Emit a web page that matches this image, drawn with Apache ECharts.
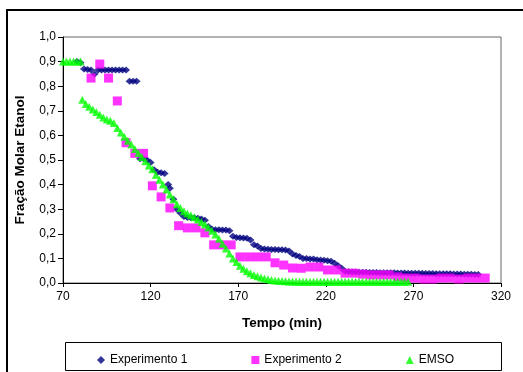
<!DOCTYPE html>
<html>
<head>
<meta charset="utf-8">
<script src="https://cdn.jsdelivr.net/npm/echarts@6/dist/echarts.min.js"></script>
<style>
  html, body { margin: 0; padding: 0; background: #fff; }
  #chart { width: 523px; height: 372px; }
</style>
</head>
<body>
<div id="chart"></div>
<script>
// Experimento 1 (dense readings)
var exp1Time = [78, 80, 82, 84, 86, 88, 90, 92, 94, 96, 98, 100, 102, 104, 106, 108, 110, 112,
    114, 116, 118, 120, 122, 124, 126, 128, 130, 131, 133, 135, 137, 139, 141, 143, 145, 147, 149,
    151, 153, 155, 157, 159, 161, 163, 165, 167, 169, 171, 173, 175, 177, 179, 181, 183, 185, 187,
    189, 191, 193, 195, 197, 199, 201, 203, 205, 207, 209, 211, 213, 215, 217, 219, 221, 223, 225,
    227, 229, 231, 233, 235, 237, 239, 241, 243, 245, 247, 249, 251, 253, 255, 257, 259, 261, 263,
    265, 267, 269, 271, 273, 275, 277, 279, 281, 283, 285, 287, 289, 291, 293, 295, 297, 299, 301,
    303, 305, 307];
var exp1Frac = [0.90, 0.895, 0.87, 0.868, 0.866, 0.85, 0.866, 0.866, 0.866, 0.866, 0.866, 0.866, 0.866, 0.866, 0.866, 0.82, 0.82, 0.82,
    0.505, 0.505, 0.50, 0.49, 0.46, 0.45, 0.448, 0.445, 0.40, 0.385, 0.34, 0.30, 0.285, 0.27, 0.266, 0.265, 0.265, 0.263, 0.26,
    0.255, 0.23, 0.218, 0.216, 0.216, 0.215, 0.215, 0.212, 0.19, 0.185, 0.184, 0.183, 0.182, 0.175, 0.155, 0.15, 0.14, 0.138, 0.137,
    0.136, 0.136, 0.135, 0.135, 0.134, 0.13, 0.118, 0.112, 0.108, 0.10, 0.10, 0.098, 0.098, 0.095, 0.094, 0.092, 0.09, 0.088, 0.08,
    0.07, 0.06, 0.048, 0.046, 0.045, 0.045, 0.044, 0.044, 0.044, 0.043, 0.043, 0.043, 0.042, 0.042, 0.042, 0.042, 0.042, 0.041, 0.041,
    0.041, 0.04, 0.04, 0.04, 0.04, 0.04, 0.039, 0.039, 0.039, 0.038, 0.038, 0.038, 0.038, 0.038, 0.037, 0.037, 0.037, 0.036, 0.036,
    0.036, 0.035, 0.035];

// Experimento 2
var exp2Time = [86, 91, 96, 101, 106, 111, 116, 121, 126, 131, 136, 141, 146, 151, 156, 161, 166, 171, 176, 181,
    186, 191, 196, 201, 206, 211, 216, 221, 226, 231, 236, 241, 246, 251, 256, 261, 266, 271, 276, 281,
    286, 291, 296, 301, 306, 311];
var exp2Frac = [0.833, 0.89, 0.833, 0.74, 0.57, 0.527, 0.527, 0.395, 0.35, 0.305, 0.233, 0.224, 0.224, 0.204, 0.155, 0.155, 0.155, 0.106, 0.106, 0.106,
    0.106, 0.082, 0.073, 0.061, 0.06, 0.065, 0.065, 0.053, 0.053, 0.04, 0.04, 0.036, 0.033, 0.033, 0.033, 0.025, 0.02, 0.02, 0.016, 0.016,
    0.02, 0.02, 0.016, 0.02, 0.02, 0.02];

// EMSO (simulation)
var emsoTime = [70, 72, 74, 76, 78, 80, 81, 83, 85, 87, 89, 91, 93, 95, 97, 99, 101, 103, 105, 107, 109, 111, 113,
    115, 117, 119, 121, 123, 125, 127, 129, 131, 133, 135, 137, 139, 141, 143, 145, 147, 149, 151, 153, 155,
    157, 159, 161, 163, 165, 167, 169, 171, 173, 175, 177, 179, 181, 183, 185, 187, 189, 191, 193, 195, 197,
    199, 201, 203, 205, 207, 209, 211, 213, 215, 217, 219, 221, 223, 225, 227, 229, 231, 233, 235, 237, 239,
    241, 243, 245, 247, 249, 251, 253, 255, 257, 259, 261, 263, 265, 267];
var emsoFrac = [0.90, 0.90, 0.90, 0.90, 0.90, 0.90, 0.745, 0.728, 0.716, 0.705, 0.695, 0.684, 0.673, 0.665, 0.66, 0.65, 0.63, 0.612, 0.595, 0.578, 0.563, 0.545, 0.528,
    0.512, 0.495, 0.478, 0.462, 0.44, 0.42, 0.40, 0.38, 0.36, 0.34, 0.32, 0.305, 0.292, 0.283, 0.275, 0.267, 0.258, 0.248, 0.238, 0.226, 0.212,
    0.197, 0.18, 0.16, 0.14, 0.12, 0.10, 0.085, 0.07, 0.058, 0.048, 0.04, 0.033, 0.027, 0.022, 0.018, 0.015, 0.012, 0.01, 0.009, 0.008, 0.007,
    0.006, 0.006, 0.005, 0.005, 0.005, 0.005, 0.005, 0.005, 0.005, 0.005, 0.005, 0.005, 0.005, 0.005, 0.005, 0.005, 0.005, 0.005, 0.005, 0.005, 0.005,
    0.005, 0.005, 0.005, 0.005, 0.005, 0.005, 0.005, 0.005, 0.005, 0.005, 0.005, 0.005, 0.005, 0.005];

var xTicks = { min: 70, max: 320, step: 50 };
var yTicks = { min: 0, max: 1, step: 0.1 };

function pairs(xs, ys) {
    return xs.map(function (x, i) { return [x, ys[i]]; });
}

var myChart = echarts.init(document.getElementById('chart'));
var fontFamily = '"Liberation Sans", Arial, sans-serif';

var option = {
    animation: false,
    textStyle: { fontFamily: fontFamily, color: '#000' },
    grid: {
        left: 63,
        top: 37,
        right: 22,
        bottom: 89,
        show: true,
        borderColor: '#666',
        borderWidth: 1
    },
    graphic: [
        {
            type: 'rect',
            shape: { x: 7, y: 10, width: 600, height: 500 },
            style: { fill: 'none', stroke: '#000', lineWidth: 2 },
            silent: true
        },
        {
            type: 'rect',
            shape: { x: 65.5, y: 342.5, width: 436, height: 28 },
            style: { fill: 'none', stroke: '#000', lineWidth: 1 },
            silent: true
        }
    ],
    legend: {
        left: 92,
        top: 349,
        itemGap: 64,
        itemWidth: 8,
        itemHeight: 8,
        textStyle: { fontSize: 12, fontFamily: fontFamily, color: '#000' },
        data: [
            { name: 'Experimento 1', icon: 'diamond' },
            { name: 'Experimento 2', icon: 'rect' },
            { name: 'EMSO', icon: 'triangle' }
        ]
    },
    xAxis: {
        type: 'value',
        min: xTicks.min,
        max: xTicks.max,
        interval: xTicks.step,
        name: 'Tempo (min)',
        nameLocation: 'middle',
        nameGap: 33,
        nameTextStyle: { fontSize: 13.5, fontWeight: 'bold', color: '#000' },
        splitLine: { show: false },
        axisLine: { lineStyle: { color: '#000', width: 1 } },
        axisTick: { inside: false, length: 4, lineStyle: { color: '#000' } },
        axisLabel: { fontSize: 12, color: '#000', margin: 8 }
    },
    yAxis: {
        type: 'value',
        min: yTicks.min,
        max: yTicks.max,
        interval: yTicks.step,
        name: 'Fração Molar Etanol',
        nameLocation: 'middle',
        nameGap: 36,
        nameTextStyle: { fontSize: 13.5, fontWeight: 'bold', color: '#000' },
        splitLine: { show: false },
        axisLine: { show: true, lineStyle: { color: '#000', width: 1 } },
        axisTick: { show: true, inside: false, length: 5, lineStyle: { color: '#000' } },
        axisLabel: {
            fontSize: 12,
            color: '#000',
            margin: 7,
            formatter: function (v) { return v.toFixed(1).replace('.', ','); }
        }
    },
    series: [
        {
            name: 'Experimento 1',
            type: 'scatter',
            symbol: 'diamond',
            symbolSize: [8, 7],
            itemStyle: { color: '#000080' },
            data: pairs(exp1Time, exp1Frac)
        },
        {
            name: 'Experimento 2',
            type: 'scatter',
            symbol: 'rect',
            symbolSize: 9,
            itemStyle: { color: '#FF00FF' },
            data: pairs(exp2Time, exp2Frac)
        },
        {
            name: 'EMSO',
            type: 'scatter',
            symbol: 'triangle',
            symbolSize: 8,
            itemStyle: { color: '#00FF00' },
            data: pairs(emsoTime, emsoFrac)
        }
    ]
};

myChart.setOption(option);
</script>
</body>
</html>
